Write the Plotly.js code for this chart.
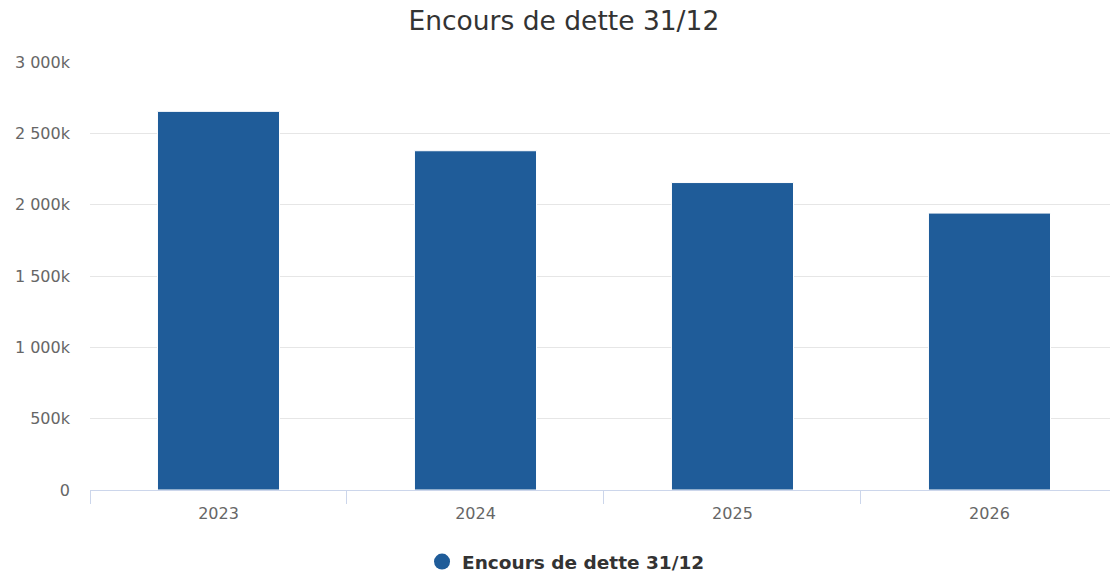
<!DOCTYPE html>
<html>
<head>
<meta charset="utf-8">
<script src="https://cdn.plot.ly/plotly-3.0.1.min.js"></script>
<style>html,body{margin:0;padding:0;background:#fff;}#chart{width:1110px;height:573px;}</style>
</head>
<body>
<div id="chart"></div>
<script>
const categories = ["2023", "2024", "2025", "2026"];
const seriesName = "Encours de dette 31/12";
const values = [2654000, 2378000, 2155000, 1941000];
const yTickVals = [0, 500000, 1000000, 1500000, 2000000, 2500000, 3000000];
const yTickText = ["0", "500k", "1 000k", "1 500k", "2 000k", "2 500k", "3 000k"];

const color = "#1f5c99";
const traces = [
  {type: "bar", x: categories, y: values, name: seriesName, width: 0.475,
   marker: {color: color, line: {color: "#ffffff", width: 1}}, showlegend: false, hoverinfo: "x+y"},
  {type: "scatter", mode: "markers", x: [null], y: [null], name: seriesName,
   marker: {color: color, size: 17, symbol: "circle"}, showlegend: true}
];
const layout = {
  width: 1110, height: 573,
  margin: {l: 90, r: 0, t: 62, b: 83, autoexpand: false},
  paper_bgcolor: "#ffffff", plot_bgcolor: "#ffffff",
  font: {family: "DejaVu Sans, sans-serif", color: "#666666"},
  title: {text: "Encours de dette 31/12", x: 0.508, xanchor: "center", y: 0.963, yanchor: "middle",
          font: {size: 26.5, color: "#333333", family: "DejaVu Sans, sans-serif"}},
  xaxis: {type: "category", range: [-0.5, 3.469], showline: true, linecolor: "#ccd6eb", linewidth: 1,
          ticks: "outside", tickson: "boundaries", ticklen: 13, tickcolor: "#ccd6eb", tickwidth: 1,
          ticklabelstandoff: 9, automargin: false,
          showgrid: false, tickfont: {size: 16, color: "#666666"}, fixedrange: true},
  yaxis: {range: [0, 3000000], tickvals: yTickVals, ticktext: yTickText, showgrid: true,
          gridcolor: "#e6e6e6", gridwidth: 1, zeroline: false, showline: false, ticks: "",
          ticklabelstandoff: 19, automargin: false, tickfont: {size: 16, color: "#666666"}, fixedrange: true},
  legend: {orientation: "h", x: 0.4667, xanchor: "center", y: -0.124, yanchor: "top",
           font: {size: 18.5, color: "#333333", family: "DejaVu Sans, sans-serif", weight: "bold"}},
  showlegend: true
};
Plotly.newPlot("chart", traces, layout, {displayModeBar: false, staticPlot: true});
</script>
</body>
</html>
